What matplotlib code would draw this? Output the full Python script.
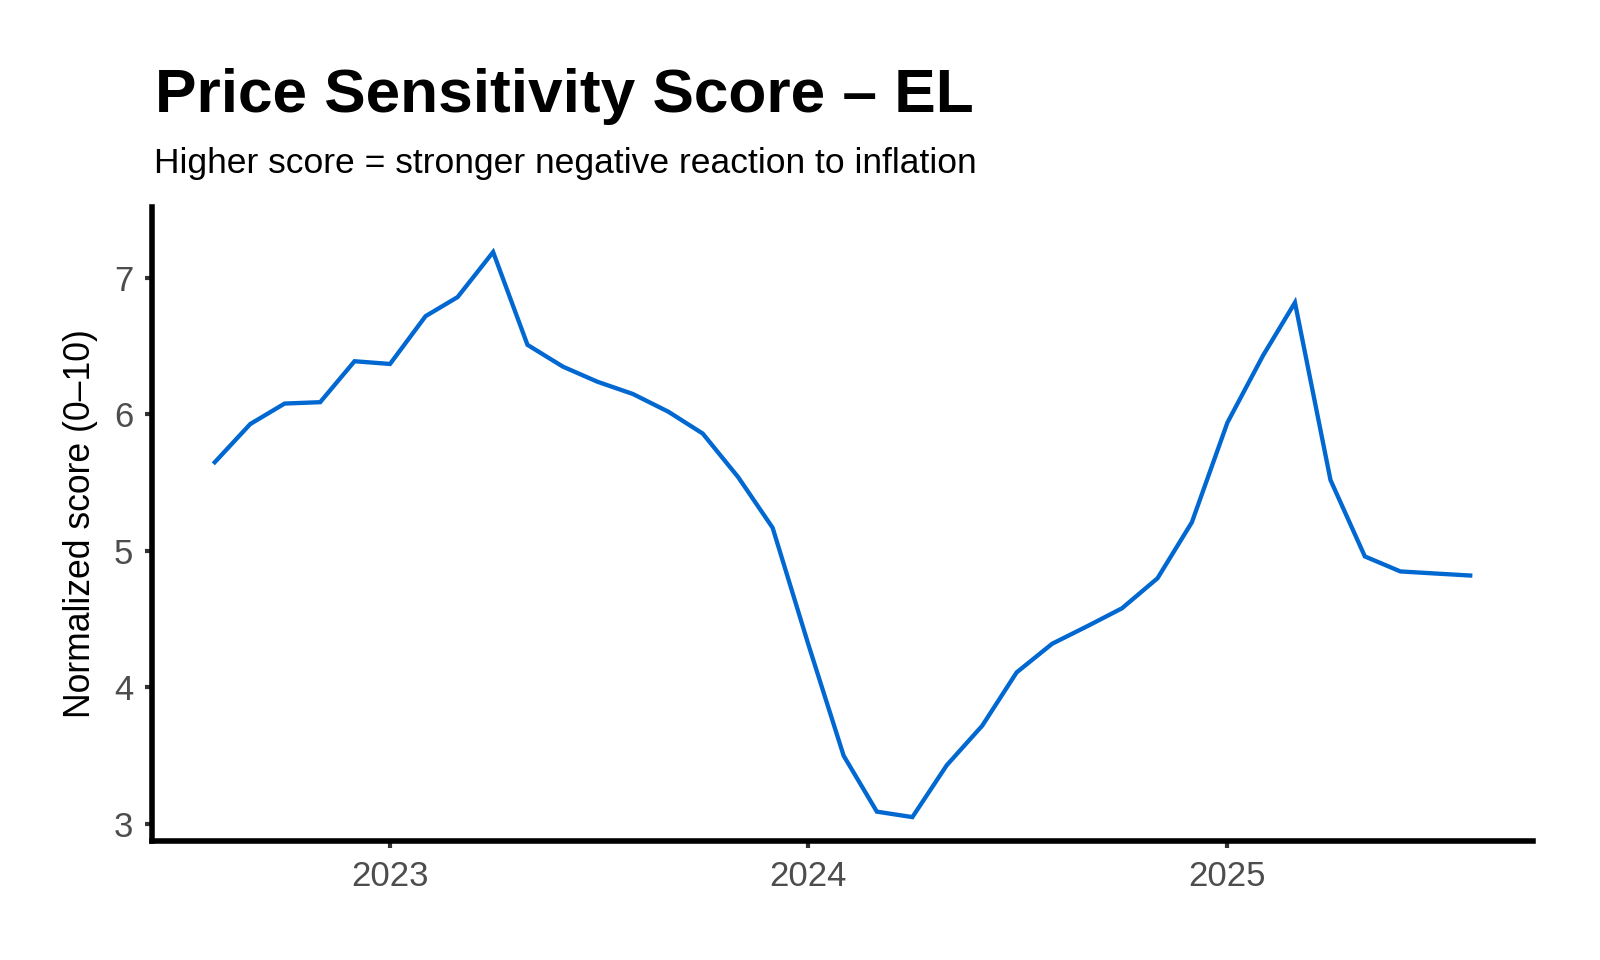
import matplotlib
matplotlib.use("Agg")
import matplotlib.pyplot as plt
import matplotlib.dates as mdates
import numpy as np
import pandas as pd

plt.rcParams['font.family'] = ['Liberation Sans', 'DejaVu Sans']

# ---- data ----
months = pd.date_range("2022-08-01", "2025-08-01", freq="MS")
scores = [
    5.65, 5.93, 6.08, 6.09, 6.39,              # Aug-Dec 2022
    6.37, 6.72, 6.86, 7.19, 6.51, 6.35,        # Jan-Jun 2023
    6.24, 6.15, 6.02, 5.86, 5.54, 5.17,        # Jul-Dec 2023
    4.32, 3.50, 3.09, 3.05, 3.43, 3.72,        # Jan-Jun 2024
    4.11, 4.32, 4.45, 4.58, 4.80, 5.21,        # Jul-Dec 2024
    5.94, 6.43, 6.82, 5.52, 4.96, 4.85,        # Jan-Jun 2025
    4.835, 4.82,                               # Jul-Aug 2025
]
title = "Price Sensitivity Score – EL"
subtitle = "Higher score = stronger negative reaction to inflation"
ylabel = "Normalized score (0–10)"
yticks = [3, 4, 5, 6, 7]
xtick_years = [2023, 2024, 2025]

# ---- figure ----
fig = plt.figure(figsize=(8, 4.8), dpi=200)
ax = fig.add_axes([152/1600, 1 - 841/960, (1533-152)/1600, (841-207)/960])

ax.plot(months, scores, color="#0068D0", linewidth=1.55, solid_joinstyle="miter")

x0 = mdates.date2num(months[0]); x1 = mdates.date2num(months[-1])
span = x1 - x0
ax.set_xlim(x0 - 0.05*span, x1 + 0.05*span)
ax.set_ylim(2.875, 7.52)

ax.set_yticks(yticks)
ax.set_yticklabels([str(v) for v in yticks])
ax.set_xticks([mdates.date2num(pd.Timestamp(f"{y}-01-01")) for y in xtick_years])
ax.set_xticklabels([str(y) for y in xtick_years])

for s in ["top", "right"]:
    ax.spines[s].set_visible(False)
for s in ["left", "bottom"]:
    ax.spines[s].set_linewidth(2.0)
    ax.spines[s].set_color("black")
    ax.spines[s].set_capstyle("projecting")

ax.tick_params(axis="both", length=2.6, width=1.5, color="#333333",
               labelcolor="#4D4D4D", labelsize=12.5, pad=4.2)

ax.set_ylabel(ylabel, fontsize=12.8, color="black", labelpad=5.5)

fig.text(155/1600, 1 - 112/960, title, fontsize=22.4, fontweight="bold",
         color="black", ha="left", va="baseline")
fig.text(154/1600, 1 - 173/960, subtitle, fontsize=12.75,
         color="black", ha="left", va="baseline")

fig.savefig("out.png", dpi=200, facecolor="white")
